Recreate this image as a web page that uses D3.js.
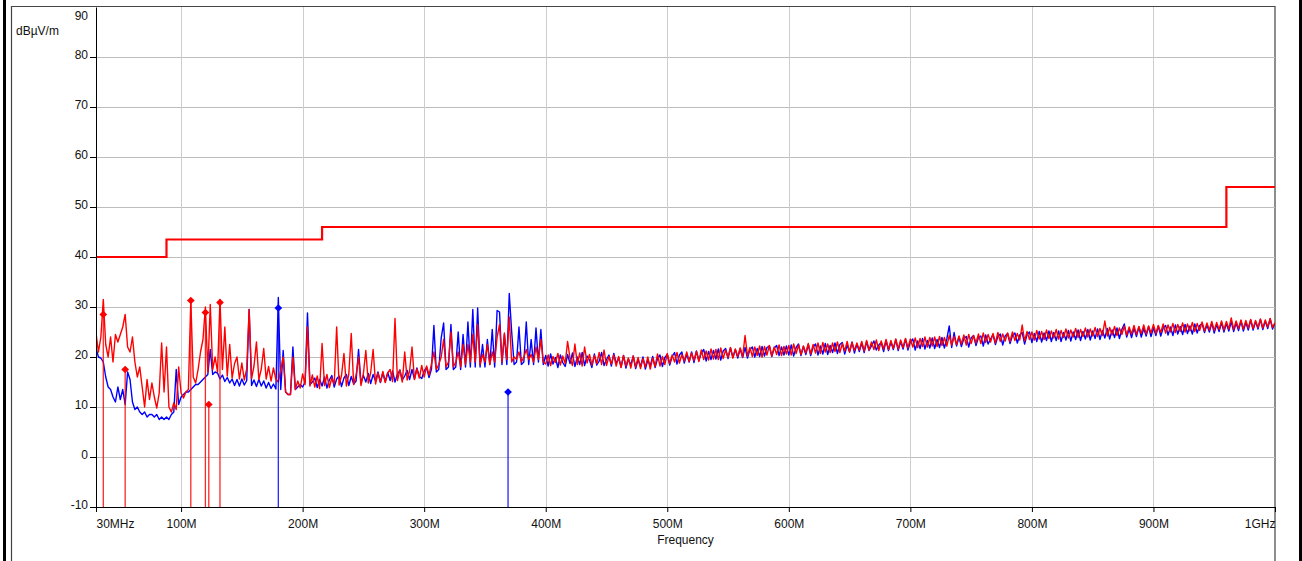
<!DOCTYPE html>
<html>
<head>
<meta charset="utf-8">
<script src="https://cdn.jsdelivr.net/npm/d3@7"></script>
<style>
body { margin: 0; background: #fff; }
svg text { font-family: "Liberation Sans", Arial, sans-serif; font-size: 12px; fill: #111; }
</style>
</head>
<body>
<div id="chart"></div>
<script>
// sweep 30 MHz .. 1 GHz, one reading every 2 MHz (dBuV/m)
const sweepStart = 30;
const sweepStep = 2;

const blueLevels = [
	21.8, 20, 19.8, 19, 16, 14, 13.5, 12, 11, 14,                  // 30
	11.5, 13.5, 10.5, 17, 15.5, 11, 9.5, 10, 9, 8.5,               // 50
	9, 8, 8.5, 8.5, 8, 8.5, 7.5, 8, 7.5, 8,                         // 70
	7.5, 8.5, 9, 17.5, 10.5, 12, 12.5, 13, 13, 13.5,                // 90
	14, 14.5, 14.5, 15, 15.5, 16, 16.5, 21.5, 16.5, 17,             // 110
	16.8, 15.6, 16.4, 15.1, 15.9, 14.8, 15.6, 14.3, 15.5, 14.2,     // 130
	15.6, 14.4, 15.3, 29.5, 14.3, 15.4, 14.1, 15.5, 14.2, 15.2,     // 150
	13.8, 14.9, 13.7, 14.6, 13.6, 31.9, 13.5, 21.3, 13, 12.5,       // 170
	12.5, 22, 13.5, 14, 14.5, 14, 15, 28.8, 14.5, 15,               // 190
	15.8, 13.9, 15.5, 14.2, 16, 13.8, 15.4, 16.3, 14, 15.6,         // 210
	16.2, 14.1, 15.8, 16.5, 14.3, 16.1, 14.6, 15.2, 21.5, 14.8,     // 230
	16.3, 15, 16.7, 14.7, 16.5, 15.2, 17, 14.9, 16.8, 15.1,         // 250
	16.9, 15.3, 17.2, 15, 16.6, 17.4, 15.4, 16.2, 17.3, 15.5,       // 270
	17.5, 15.6, 17.8, 16.1, 15.7, 17.2, 17.9, 15.9, 17.6, 26.3,     // 290
	17, 17.5, 23.8, 26.8, 17.5, 18, 26.5, 17.5, 18, 25,             // 310
	17.5, 24.5, 18, 27, 18, 29.5, 18, 29.8, 18, 22.5,               // 330
	18, 23.5, 18.5, 25.5, 18, 29.3, 29, 18.5, 24.5, 18.5,           // 350
	32.7, 25, 18.5, 19, 26, 18.5, 19, 27, 18.5, 23.5,               // 370
	18.5, 25.8, 19, 25.5, 18.5,                                     // 390
	20.3, 18.2, 20.6, 18.6, 19.9, 17.9, 20.4, 18.9, 18.1, 20.5,     // 400
	18.7, 20.8, 18.1, 20, 18.5, 20.9, 18.3, 20.2, 19.4, 17.9,       // 420
	20.6, 18.4, 19.2, 20.9, 18.3, 19.5, 20.4, 18.2, 20.7, 18.7,     // 440
	19.8, 18, 20.3, 17.8, 19.6, 18.4, 20.2, 17.7, 19.5, 18.1,       // 460
	20, 17.6, 19.4, 18.2, 20.1, 17.9, 19.7, 20.4, 18.1, 19.9,       // 480
	20.5, 18.4, 20.1, 20.9, 18.6, 20.4, 21, 18.8, 20.6, 19,         // 500
	21, 18.9, 21.2, 19.3, 20.8, 21.5, 19.2, 21.1, 19.5, 21.3,       // 520
	19.6, 21.6, 19.4, 21.2, 21.7, 19.7, 21.8, 19.9, 21.5, 19.8,     // 540
	21.7, 19.9, 21.9, 19.8, 21.5, 22, 20, 21.7, 20.1, 22.1,         // 560
	20.2, 21.9, 22.2, 20.1, 21.8, 22.3, 20.3, 22, 20.4, 22.2,       // 580
	20.4, 22.4, 20.2, 21.9, 22.6, 20.3, 22.1, 20.5, 22.5, 20.3,     // 600
	22, 22.6, 20.4, 22.2, 20.6, 22.7, 20.5, 22.3, 20.9, 22.8,       // 620
	20.7, 22.5, 22.9, 20.6, 22.4, 21, 23, 20.8, 22.6, 21.1,         // 640
	22.8, 20.9, 23.1, 21.3, 22.2, 23.2, 21.4, 22.4, 22.9, 21.1,     // 660
	23.3, 21.3, 23, 21.5, 23.5, 21.3, 23.1, 21.6, 23.6, 21.4,       // 680
	23, 23.6, 21.4, 23.2, 21.7, 23.7, 21.6, 23.3, 21.8, 23.8,       // 700
	21.7, 23.5, 21.9, 23.9, 21.8, 23.6, 26.2, 21.9, 24.9, 22.2,     // 720
	24, 22.1, 23.7, 24.1, 22, 23.8, 24.3, 22.3, 23.9, 24.2,         // 740
	22.2, 24.4, 22.6, 23.6, 24.5, 22.5, 24.1, 24.6, 22.4, 24.2,     // 760
	24.7, 22.7, 24.3, 24.8, 22.8, 24.4, 24.9, 22.6, 24.5, 25,       // 780
	22.9, 24.7, 23.1, 25.1, 23, 24.8, 23.3, 25.2, 23.1, 24.9,       // 800
	23.3, 25.2, 23.1, 24.9, 23.4, 25.3, 23.2, 25, 23.5, 25.4,       // 820
	23.3, 25.1, 23.6, 25.5, 23.4, 25.2, 23.7, 25.6, 23.5, 25.3,     // 840
	23.8, 25.7, 23.6, 25.4, 23.9, 25.8, 23.7, 25.5, 26.6, 24,       // 860
	25.6, 23.9, 25.8, 24.1, 26, 24, 25.7, 24.2, 26.1, 24.1,         // 880
	25.9, 24.3, 26.2, 24.2, 25.8, 26.3, 24.4, 26, 24.3, 26.4,       // 900
	24.6, 26.1, 24.5, 26.5, 24.7, 26.2, 24.6, 26.6, 24.8, 26.3,     // 920
	26.7, 24.9, 26.4, 25, 26.8, 24.8, 26.5, 25.1, 26.9, 25,         // 940
	26.7, 25.2, 27.1, 25.1, 26.8, 25.3, 27.2, 25.2, 26.9, 25.4,     // 960
	27.4, 25.4, 27.1, 25.6, 27.5, 25.5, 27.2, 25.7, 27.6, 25.6,     // 980
	26.8                                                            // 1000
];

const redLevels = [
	24.8, 21, 24, 31.5, 22.5, 20, 24, 19, 24.5, 23,                 // 30
	24.5, 26, 28.5, 22, 21, 24, 19, 16, 18, 14,                     // 50
	10, 15.5, 11.5, 14.8, 12, 9.8, 12.8, 22.8, 13, 22,              // 70
	10, 9, 10.8, 9.5, 18, 12.8, 11.8, 13, 13.5, 31.3,               // 90
	16, 14.8, 17.5, 21, 23.5, 30, 17, 30.5, 17.5, 20,               // 110
	17, 31.5, 17.5, 26, 16.2, 22.5, 15.8, 18.7, 20, 15.6,           // 130
	18.8, 15.4, 17.6, 29.5, 15.7, 18.2, 23, 15.5, 17.6, 21.7,       // 150
	15.6, 18.1, 15.2, 17.8, 15.5, 15, 17.4, 20, 13, 12.5,           // 170
	12.5, 20, 13.5, 15.2, 13.8, 16.6, 14.5, 26, 14.2, 16.4,         // 190
	14, 16.2, 13.7, 22.7, 14.3, 16.5, 13.9, 15.8, 14.6, 26,         // 210
	14.4, 16.3, 20.7, 14.2, 16.6, 24.7, 14.5, 16.4, 20, 14.3,       // 230
	16.7, 21.3, 14.8, 16.9, 21.5, 14.6, 16.8, 15, 17.1, 14.9,       // 250
	16.8, 17.5, 15.1, 27.7, 15.3, 17.4, 15, 21, 15.4, 17.2,         // 270
	22, 15.5, 17.6, 15.8, 18.3, 16, 18.2, 16.4, 18.6, 21,           // 290
	17.5, 18.5, 20, 23.5, 18, 19, 25, 18, 19, 21,                   // 310
	18, 22.5, 18.5, 22.5, 19, 24.5, 19, 26.5, 18.5, 20.5,           // 330
	19, 22.5, 18.5, 21, 19, 24, 26.5, 19, 24.8, 19.5,               // 350
	28, 19, 20, 19.5, 21, 19, 20, 21.5, 19.5, 20.5,                 // 370
	19, 22, 19.5, 23.5, 19,                                         // 390
	18.6, 20.4, 18.3, 20.1, 18.9, 20.7, 18.4, 20.2, 18.7, 23.1,     // 400
	19.8, 18.3, 22.6, 18.5, 20.8, 18.2, 22, 18.8, 20.5, 18.4,       // 420
	20.3, 18.7, 20.9, 18.5, 21.4, 18.3, 20.1, 18.6, 20.4, 18.2,     // 440
	20.1, 17.9, 20.3, 18.2, 19.8, 17.8, 20.2, 18, 19.9, 17.7,       // 460
	19.7, 18, 20, 17.6, 19.8, 18.1, 20.6, 18.2, 20.1, 18.5,         // 480
	20.7, 18.7, 20.4, 19, 20.9, 18.8, 20.5, 19.2, 21, 19.1,         // 500
	20.8, 19.3, 21.1, 19.1, 21.4, 19.5, 21.2, 19.4, 21.6, 19.6,     // 520
	21.5, 19.5, 21.8, 19.7, 21.4, 19.9, 21.9, 19.8, 21.6, 20.1,     // 540
	21.8, 20, 24.3, 20.2, 21.9, 20.1, 22, 20.3, 22.2, 20,           // 560
	22.1, 20.4, 22.3, 20.2, 22, 20.5, 22.4, 20.3, 22.1, 20.6,       // 580
	22.3, 20.4, 22.6, 20.7, 22.4, 20.5, 22.2, 20.8, 22.7, 20.6,     // 600
	22.5, 20.8, 22.8, 20.7, 22.9, 21, 22.6, 20.9, 22.8, 21.1,       // 620
	23, 20.9, 22.7, 21.2, 23.1, 21, 22.9, 21.3, 22.8, 21.4,         // 640
	23.1, 21.2, 23.3, 21.4, 23, 21.5, 23.4, 21.3, 23.2, 21.6,       // 660
	23.5, 21.5, 23.3, 21.7, 23.6, 21.6, 23.4, 21.9, 23.7, 21.8,     // 680
	23.6, 22, 23.8, 21.9, 23.7, 22.1, 24, 22, 23.9, 22.2,           // 700
	24, 22.1, 24.1, 22.3, 23.9, 22.2, 24.3, 22.4, 24.1, 22.5,       // 720
	24.2, 22.6, 24.4, 22.4, 24.5, 22.7, 24.3, 22.8, 24.6, 22.7,     // 740
	24.8, 22.9, 24.5, 23, 24.7, 22.8, 24.9, 23.1, 24.6, 23.2,       // 760
	24.8, 23.1, 25, 23.3, 24.7, 23.4, 26.4, 23.2, 25.1, 23.5,       // 780
	25, 23.4, 25.3, 23.6, 25.1, 23.5, 25.4, 23.7, 25.2, 23.8,       // 800
	25.5, 23.6, 25.3, 23.9, 25.6, 23.8, 25.4, 24, 25.7, 23.9,       // 820
	25.5, 24.1, 25.8, 24, 25.6, 24.2, 25.9, 24.1, 25.7, 24.3,       // 840
	27.2, 24.2, 25.9, 24.4, 26.1, 24.3, 25.8, 24.5, 26.2, 24.4,     // 860
	26, 24.6, 26.3, 24.5, 26.1, 24.7, 26.4, 24.6, 26.2, 24.8,       // 880
	26.5, 24.7, 26.3, 24.9, 26.6, 24.8, 26.4, 25, 26.7, 24.9,       // 900
	26.5, 25.1, 26.8, 25, 26.6, 25.2, 26.9, 25.1, 26.7, 25.3,       // 920
	27, 25.2, 26.8, 25.4, 27.1, 25.3, 26.9, 25.5, 27.2, 25.4,       // 940
	27.1, 25.6, 27.8, 25.5, 27.2, 25.7, 27.4, 25.6, 27.3, 25.8,     // 960
	27.5, 25.7, 27.3, 25.9, 27.6, 25.8, 27.4, 26, 27.7, 25.9,       // 980
	26.9                                                            // 1000
];

// limit line (step after each corner frequency)
const limitFreqs = [30, 88, 216, 960, 1000];
const limitLevels = [40, 43.5, 46, 54, 54];

// peak markers
const redMarkerFreqs = [36, 54, 108, 120, 122.8, 132];
const redMarkerLevels = [28.5, 17.5, 31.3, 28.9, 10.5, 30.9];
const blueMarkerFreqs = [180, 369];
const blueMarkerLevels = [29.8, 13];

const xTickValues = [30, 100, 200, 300, 400, 500, 600, 700, 800, 900, 1000];
const xTickLabels = ["30MHz", "100M", "200M", "300M", "400M", "500M", "600M", "700M", "800M", "900M", "1GHz"];
const yTickValues = [-10, 0, 10, 20, 30, 40, 50, 60, 70, 80, 90];

const W = 1302, H = 561;
const plot = { left: 96, top: 7, right: 1275, bottom: 507 };

var svg = d3.select("#chart").append("svg")
	.attr("width", W)
	.attr("height", H);

var x = d3.scaleLinear().domain([30, 1000]).range([plot.left, plot.right]);
var y = d3.scaleLinear().domain([-10, 90]).range([plot.bottom, plot.top]);

// outer frame
svg.append("rect").attr("x", 3).attr("y", 0).attr("width", 3).attr("height", H).attr("fill", "#000");
svg.append("rect").attr("x", 1299).attr("y", 0).attr("width", 3).attr("height", H).attr("fill", "#000");
svg.append("path")
	.attr("d", `M11.5,${H} V6.5 H${plot.right} V${H}`)
	.attr("fill", "none")
	.attr("stroke", "#444")
	.attr("stroke-width", 1.2);

// grid
svg.append("g")
	.selectAll("line")
	.data(yTickValues.filter(d => d > -10 && d < 90))
	.join("line")
	.attr("x1", plot.left).attr("x2", plot.right)
	.attr("y1", d => Math.round(y(d)) + 0.5).attr("y2", d => Math.round(y(d)) + 0.5)
	.attr("stroke", "#bdbdbd");
svg.append("g")
	.selectAll("line")
	.data(xTickValues.filter(d => d > 30 && d < 1000))
	.join("line")
	.attr("x1", d => Math.round(x(d)) + 0.5).attr("x2", d => Math.round(x(d)) + 0.5)
	.attr("y1", plot.top).attr("y2", plot.bottom)
	.attr("stroke", "#cdcdcd");

var chart = svg.append("g");
svg.append("clipPath").attr("id", "plotClip")
	.append("rect")
	.attr("x", plot.left).attr("y", plot.top)
	.attr("width", plot.right - plot.left).attr("height", plot.bottom - plot.top);
chart.attr("clip-path", "url(#plotClip)");

// limit
const limitData = limitFreqs.map((f, i) => ({ f: f, v: limitLevels[i] }));
chart.append("path")
	.datum(limitData)
	.attr("fill", "none")
	.attr("stroke", "#ff0000")
	.attr("stroke-width", 2.2)
	.attr("d", d3.line().curve(d3.curveStepAfter).x(d => x(d.f)).y(d => y(d.v)));

// traces
const toPoints = levels => levels.map((v, i) => ({ f: sweepStart + i * sweepStep, v: v }));
var trace = d3.line().x(d => x(d.f)).y(d => y(d.v));

chart.append("path")
	.datum(toPoints(blueLevels))
	.attr("fill", "none")
	.attr("stroke", "#0000ff")
	.attr("stroke-width", 1.4)
	.attr("stroke-linejoin", "round")
	.attr("d", trace);
chart.append("path")
	.datum(toPoints(redLevels))
	.attr("fill", "none")
	.attr("stroke", "#ff0000")
	.attr("stroke-width", 1.4)
	.attr("stroke-linejoin", "round")
	.attr("d", trace);

// markers with stems down to the axis
const drawMarkers = (freqs, levels, color) => {
	const data = freqs.map((f, i) => ({ f: f, v: levels[i] }));
	const g = chart.append("g");
	g.selectAll("line")
		.data(data)
		.join("line")
		.attr("x1", d => x(d.f)).attr("x2", d => x(d.f))
		.attr("y1", d => y(d.v)).attr("y2", plot.bottom)
		.attr("stroke", color)
		.attr("stroke-opacity", 0.85)
		.attr("stroke-width", 1.3);
	g.selectAll("path")
		.data(data)
		.join("path")
		.attr("d", d3.symbol(d3.symbolSquare, 30))
		.attr("transform", d => `translate(${x(d.f)},${y(d.v)}) rotate(45)`)
		.attr("fill", color);
};
drawMarkers(blueMarkerFreqs, blueMarkerLevels, "#0000ff");
drawMarkers(redMarkerFreqs, redMarkerLevels, "#ff0000");

// axes
var yAxis = svg.append("g")
	.attr("transform", `translate(${plot.left},0)`)
	.call(d3.axisLeft(y).tickValues(yTickValues).tickSize(6).tickPadding(2).tickSizeOuter(0)
		.tickFormat(d => String(d)));
yAxis.select(".domain").attr("stroke", "#000");
yAxis.selectAll(".tick line").attr("stroke", "#000");
yAxis.selectAll(".tick text")
	.attr("dy", d => d === 90 ? "1.05em" : "0.12em")
	.style("font-size", "12px");
yAxis.selectAll(".tick").filter(d => d === 90).select("line").remove();

var xAxis = svg.append("g")
	.attr("transform", `translate(0,${plot.bottom})`)
	.call(d3.axisBottom(x).tickValues(xTickValues).tickSize(5).tickPadding(7).tickSizeOuter(0)
		.tickFormat((d, i) => xTickLabels[i]));
xAxis.select(".domain").attr("stroke", "#000");
xAxis.selectAll(".tick line").attr("stroke", "#000");
xAxis.selectAll(".tick text")
	.style("font-size", "12px")
	.attr("text-anchor", (d, i) => i === 0 ? "start" : (i === xTickValues.length - 1 ? "end" : "middle"));

svg.append("text")
	.attr("x", 16).attr("y", 35)
	.text("dBµV/m");
svg.append("text")
	.attr("x", (plot.left + plot.right) / 2).attr("y", 544)
	.attr("text-anchor", "middle")
	.text("Frequency");
</script>
</body>
</html>
